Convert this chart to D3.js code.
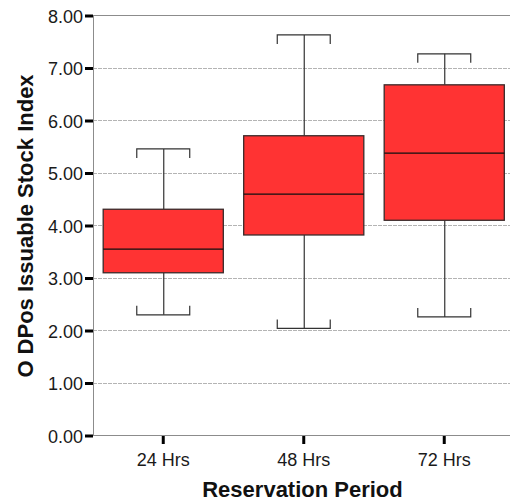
<!DOCTYPE html>
<html>
<head>
<meta charset="utf-8">
<script src="https://cdn.jsdelivr.net/npm/d3@7"></script>
<style>
  html, body { margin: 0; padding: 0; background: #fff; }
  svg { display: block; font-family: "Liberation Sans", Arial, sans-serif; }
</style>
</head>
<body>
<svg id="chart" width="510" height="502"></svg>
<script>
const categories = ["24 Hrs", "48 Hrs", "72 Hrs"];
const whiskerLow  = [2.29, 2.03, 2.25];
const q1          = [3.09, 3.81, 4.09];
const median      = [3.54, 4.59, 5.37];
const q3          = [4.30, 5.70, 6.67];
const whiskerHigh = [5.45, 7.62, 7.26];
const yTicks = [0, 1, 2, 3, 4, 5, 6, 7, 8];
const yTitle = "O DPos Issuable Stock Index";
const xTitle = "Reservation Period";

const svg = d3.select("#chart");
const mLeft = 93, mTop = 15, mRight = 514.5, mBottom = 435;

const x = d3.scaleBand().domain(categories).range([mLeft, mRight]).padding(0);
const y = d3.scaleLinear().domain([0, 8]).range([mBottom, mTop]);

const data = categories.map((c, i) => ({
  c, lo: whiskerLow[i], q1: q1[i], med: median[i], q3: q3[i], hi: whiskerHigh[i]
}));

// gridlines
svg.append("g").selectAll("line").data(yTicks.filter(t => t > 0 && t < 8)).join("line")
  .attr("x1", mLeft).attr("x2", 510)
  .attr("y1", d => Math.round(y(d)) + 0.5).attr("y2", d => Math.round(y(d)) + 0.5)
  .attr("stroke", "#b4b4b4").attr("stroke-width", 1).attr("stroke-dasharray", "4,1");

// frame lines
svg.append("line").attr("x1", mLeft).attr("x2", 510)
  .attr("y1", y(8) + 0.5).attr("y2", y(8) + 0.5)
  .attr("stroke", "#8c8c8c").attr("stroke-width", 1);
svg.append("line").attr("x1", mLeft).attr("x2", 510)
  .attr("y1", y(0) + 0.5).attr("y2", y(0) + 0.5)
  .attr("stroke", "#8c8c8c").attr("stroke-width", 1);
svg.append("line").attr("x1", mLeft + 0.5).attr("x2", mLeft + 0.5)
  .attr("y1", y(8)).attr("y2", y(0))
  .attr("stroke", "#8c8c8c").attr("stroke-width", 1);

// y axis
const yAxis = d3.axisLeft(y).tickValues(yTicks).tickFormat(d3.format(".2f")).tickSize(8).tickPadding(2);
const gy = svg.append("g").attr("transform", `translate(${mLeft},0.5)`).call(yAxis);
gy.select(".domain").remove();
gy.selectAll(".tick line").attr("stroke", "#000").attr("stroke-width", 3);
gy.selectAll(".tick text").attr("font-size", 18).attr("fill", "#1a1a1a")
  .attr("font-family", "'Liberation Sans', Arial, sans-serif").attr("dy", "0.38em");

// x axis
const xAxis = d3.axisBottom(x).tickSize(8).tickPadding(9);
const gx = svg.append("g").attr("transform", `translate(0,${mBottom + 1})`).call(xAxis);
gx.select(".domain").remove();
gx.selectAll(".tick line").attr("stroke", "#000").attr("stroke-width", 3);
gx.selectAll(".tick text").attr("font-size", 18).attr("fill", "#1a1a1a")
  .attr("font-family", "'Liberation Sans', Arial, sans-serif");

// boxes
const bw = x.bandwidth() * 0.855;
const cw = x.bandwidth() * 0.377;
const capTick = 9;
const g = svg.append("g").selectAll("g").data(data).join("g")
  .attr("transform", d => `translate(${x(d.c) + x.bandwidth() / 2},0)`);

const wc = "#333";
g.append("line").attr("x1", 0.5).attr("x2", 0.5)
  .attr("y1", d => y(d.hi)).attr("y2", d => y(d.q3)).attr("stroke", wc).attr("stroke-width", 1.2);
g.append("line").attr("x1", 0.5).attr("x2", 0.5)
  .attr("y1", d => y(d.q1)).attr("y2", d => y(d.lo)).attr("stroke", wc).attr("stroke-width", 1.2);
g.append("path")
  .attr("d", d => `M${-cw / 2},${y(d.hi) + capTick}V${y(d.hi)}H${cw / 2}V${y(d.hi) + capTick}`)
  .attr("fill", "none").attr("stroke", wc).attr("stroke-width", 1.2);
g.append("path")
  .attr("d", d => `M${-cw / 2},${y(d.lo) - capTick}V${y(d.lo)}H${cw / 2}V${y(d.lo) - capTick}`)
  .attr("fill", "none").attr("stroke", wc).attr("stroke-width", 1.2);
g.append("rect")
  .attr("x", -bw / 2).attr("width", bw)
  .attr("y", d => y(d.q3)).attr("height", d => y(d.q1) - y(d.q3))
  .attr("fill", "#ff3333").attr("stroke", "#3a2a2a").attr("stroke-width", 1.3);
g.append("line").attr("x1", -bw / 2).attr("x2", bw / 2)
  .attr("y1", d => y(d.med)).attr("y2", d => y(d.med))
  .attr("stroke", "#111").attr("stroke-width", 1.3);

// titles
svg.append("text").attr("x", 302.5).attr("y", 497)
  .attr("text-anchor", "middle").attr("font-size", 22).attr("font-weight", "bold")
  .attr("fill", "#111").text(xTitle);
svg.append("text")
  .attr("transform", `translate(33,${(mTop + mBottom) / 2 + 1}) rotate(-90)`)
  .attr("text-anchor", "middle").attr("font-size", 22).attr("font-weight", "bold")
  .attr("fill", "#111").text(yTitle);
</script>
</body>
</html>
